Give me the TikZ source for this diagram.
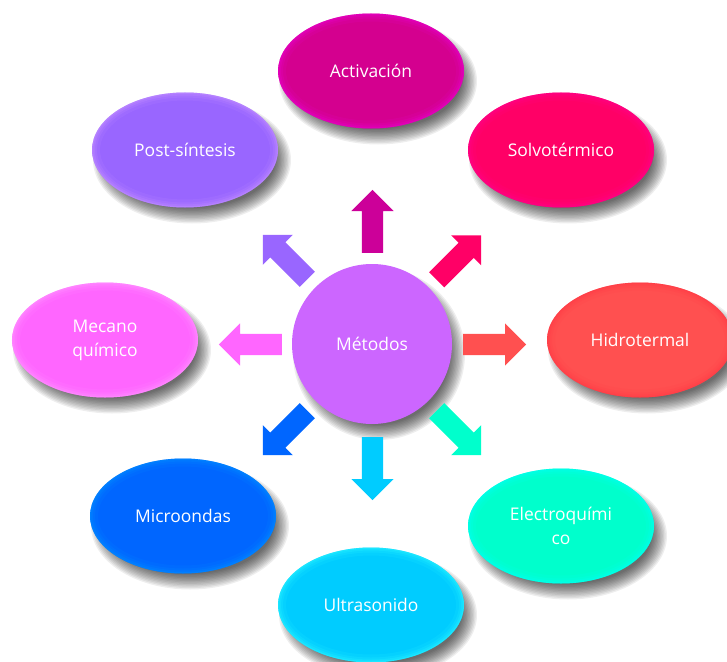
\documentclass[tikz,border=0pt]{standalone}
\usepackage{fontspec}
\setmainfont{Open Sans}
\usetikzlibrary{shapes.geometric,shapes.arrows}

% palette
\definecolor{cAct}{HTML}{D4008F}   \definecolor{rAct}{HTML}{F000E0}
\definecolor{cSol}{HTML}{FF0066}   \definecolor{rSol}{HTML}{FF0099}
\definecolor{cHid}{HTML}{FF5050}   \definecolor{rHid}{HTML}{FF3344}
\definecolor{cEle}{HTML}{00FFCC}   \definecolor{rEle}{HTML}{00FFFF}
\definecolor{cUlt}{HTML}{00CCFF}   \definecolor{rUlt}{HTML}{33FFFF}
\definecolor{cMic}{HTML}{0066FF}   \definecolor{rMic}{HTML}{0099FF}
\definecolor{cMec}{HTML}{FF66FF}   \definecolor{rMec}{HTML}{FFA0FF}
\definecolor{cPos}{HTML}{9966FF}   \definecolor{rPos}{HTML}{D09CFF}
\definecolor{cMet}{HTML}{CC66FF}
\definecolor{aAct}{HTML}{CC0099}

\newcommand\labelfont{\fontsize{17.5}{24}\selectfont}

% soft drop shadow: stacked translucent ellipses, offset down-right
\newcommand\castshadow[4]{%
  \foreach \k in {0,...,11}
    \fill[black, opacity=0.065] (#1+7,#2+10)
      ellipse[x radius={(#3+6-1.4*\k)*1bp}, y radius={(#4+6-1.4*\k)*1bp}];}

\tikzset{
  blob/.style 2 args={ellipse, minimum width=186bp, minimum height=115bp,
      inner sep=0pt, fill=#1, text=white, align=center, font=\labelfont,
      path picture={
        \foreach \w/\o in {16/0.1,10/0.14,6/0.18,2.5/0.25}
          \draw[draw=#2, line width=\w bp, opacity=\o]
            (path picture bounding box.center)
            ellipse[x radius=93bp, y radius=57.5bp];
      }},
  hub/.style={circle, minimum size=160bp, inner sep=0pt, fill=cMet,
      text=white, font=\labelfont},
  blockarrow/.style={single arrow, draw=none, fill=#1, anchor=tail,
      inner xsep=0pt, inner ysep=10.5bp,
      minimum height=63bp,
      single arrow head extend=10.5bp, single arrow tip angle=90},
}

\begin{document}
\begin{tikzpicture}[x=1bp, y=-1bp]
  \fill[white] (0,0) rectangle (727,662);
  \useasboundingbox (0,0) rectangle (727,662);

  % shadows underneath everything
  \castshadow{371}{71}{93}{57.5}
  \castshadow{561}{150}{93}{57.5}
  \castshadow{640}{340}{93}{57.5}
  \castshadow{561}{526}{93}{57.5}
  \castshadow{371}{605}{93}{57.5}
  \castshadow{183}{516}{93}{57.5}
  \castshadow{105}{340}{93}{57.5}
  \castshadow{185}{150}{93}{57.5}
  \castshadow{372}{344}{80}{80}

  % outer methods
  \node[blob={cAct}{rAct}] (act) at (371,71)  {Activación};
  \node[blob={cSol}{rSol}] (sol) at (561,150) {Solvotérmico};
  \node[blob={cHid}{rHid}] (hid) at (640,340) {Hidrotermal};
  \node[blob={cEle}{rEle}] (ele) at (561,526) {Electroquími\\co};
  \node[blob={cUlt}{rUlt}] (ult) at (371,605) {Ultrasonido};
  \node[blob={cMic}{rMic}] (mic) at (183,516) {Microondas};
  \node[blob={cMec}{rMec}] (mec) at (105,340) {Mecano\\químico};
  \node[blob={cPos}{rPos}] (pos) at (185,150) {Post-síntesis};

  % central hub
  \node[hub] (met) at (372,344) {Métodos};

  % radiating block arrows, placed by their tails
  \node[blockarrow=aAct, rotate=90]  (aUp) at (372.5,253)   {};
  \node[blockarrow=cSol, rotate=45]  (aUR) at (436.5,280)   {};
  \node[blockarrow=cHid, rotate=0]   (aR)  at (463,344.5)   {};
  \node[blockarrow=cEle, rotate=-45] (aDR) at (436.5,410.5) {};
  \node[blockarrow=cUlt, rotate=-90] (aDn) at (372.5,437)   {};
  \node[blockarrow=cMic, rotate=225] (aDL) at (307.5,410.5) {};
  \node[blockarrow=cMec, rotate=180] (aL)  at (282,344.5)   {};
  \node[blockarrow=cPos, rotate=135] (aUL) at (307.5,279.5) {};
\end{tikzpicture}
\end{document}
